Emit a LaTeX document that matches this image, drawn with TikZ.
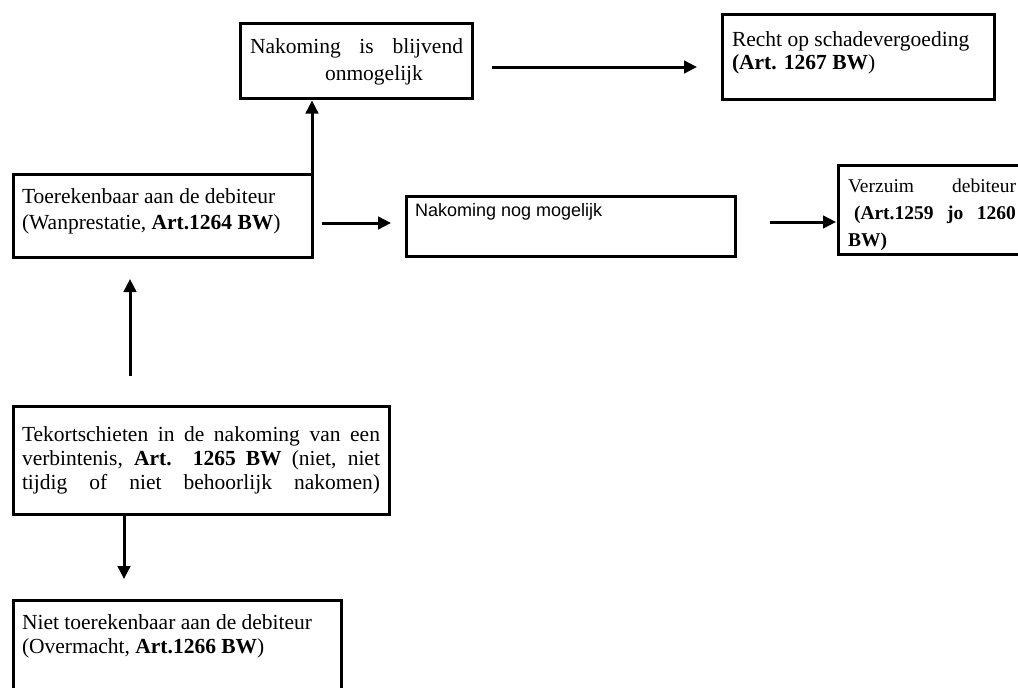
\documentclass[tikz,border=0pt]{standalone}
\usepackage{fontspec}
\setmainfont{Liberation Serif}
\newfontfamily\arialfont{Liberation Sans}
\usetikzlibrary{arrows.meta}
\begin{document}
\begin{tikzpicture}[x=1pt,y=-1pt,
  box/.style={draw, line width=3pt, inner sep=0pt, outer sep=0pt, anchor=north west},
  txt/.style={anchor=base west, inner sep=0pt, outer sep=0pt, font=\fontsize{21.5}{24}\selectfont},
  stxt/.style={anchor=base west, inner sep=0pt, outer sep=0pt, font=\arialfont\fontsize{18}{21}\selectfont},
  vtxt/.style={anchor=base west, inner sep=0pt, outer sep=0pt, font=\fontsize{19.5}{22}\selectfont},
  arr/.style={line width=3pt, -{Triangle[length=13pt,width=12.5pt]}}]

\useasboundingbox (0,0) rectangle (1018,688);
\fill[white] (0,0) rectangle (1018,688);
\clip (0,0) rectangle (1018,688);

% boxes
\node[box, minimum width=232pt, minimum height=75pt]  (b1) at (240,23)  {};
\node[box, minimum width=272pt, minimum height=85pt]  (b2) at (722,14)  {};
\node[box, minimum width=299pt, minimum height=83pt]  (b3) at (13,174)  {};
\node[box, minimum width=329pt, minimum height=60pt]  (b4) at (406,196) {};
\node[box, minimum width=282pt, minimum height=89pt]  (b5) at (838,165) {};
\node[box, minimum width=376pt, minimum height=108pt] (b6) at (13,406)  {};
\node[box, minimum width=328pt, minimum height=160pt] (b7) at (13,600)  {};

% texts
\node[txt] (t1a) at (250,53) {\makebox[213pt][s]{Nakoming is blijvend}};
\node[txt] (t1b) at (325,80) {onmogelijk};

\node[txt] (t2a) at (732,46) {Recht op schadevergoeding};
\node[txt] (t2b) at (732,69) {\textbf{(Art. 1267 BW})};

\node[txt] (t3a) at (22,203) {Toerekenbaar aan de debiteur};
\node[txt] (t3b) at (22,229) {(Wanprestatie, \textbf{Art.1264 BW})};

\node[stxt] (t4) at (415,216) {Nakoming nog mogelijk};

\node[vtxt] (t5a) at (848,192) {\makebox[168pt][s]{Verzuim debiteur}};
\node[vtxt] (t5b) at (854,219) {\makebox[162pt][s]{\textbf{(Art.1259 jo 1260}}};
\node[vtxt] (t5c) at (848,246) {\textbf{BW)}};

\node[txt] (t6a) at (22,441) {\makebox[358pt][s]{Tekortschieten in de nakoming van een}};
\node[txt] (t6b) at (22,465) {\makebox[358pt][s]{verbintenis, \textbf{Art. 1265 BW} (niet, niet}};
\node[txt] (t6c) at (22,489) {\makebox[358pt][s]{tijdig of niet behoorlijk nakomen)}};

\node[txt] (t7a) at (22,629) {Niet toerekenbaar aan de debiteur};
\node[txt] (t7b) at (22,653) {(Overmacht, \textbf{Art.1266 BW})};

% connector end points
\coordinate (a1s) at (492,67);
\coordinate (a1e) at (697,67);
\coordinate (a3s) at (322,223);
\coordinate (a3e) at (391,223);
\coordinate (a4s) at (770,222);
\coordinate (a5s) at (130,376);
\coordinate (a5e) at (130,279);
\coordinate (a6s) at (124,514);
\coordinate (a6e) at (124,579);

% connectors
\draw[arr] (a1s) -- (a1e);
\draw[arr, shorten >=2.5pt] (b3.north east) -- (b3.north east |- b1.south);
\draw[arr] (a3s) -- (a3e);
\draw[arr, shorten >=2pt] (a4s) -- (a4s -| b5.west);
\draw[arr] (a5s) -- (a5e);
\draw[arr] (a6s) -- (a6e);
\end{tikzpicture}
\end{document}
